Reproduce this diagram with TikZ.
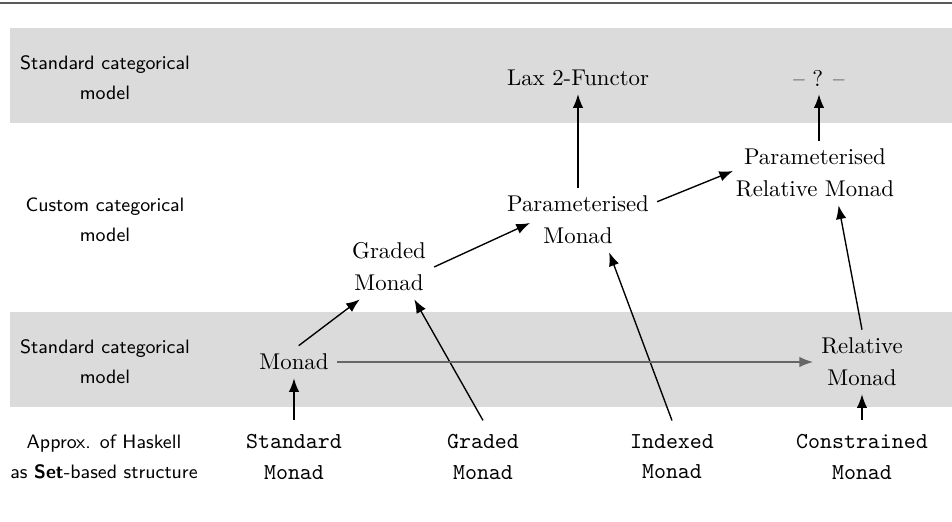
\documentclass[tikz,border=0pt]{standalone}
\usetikzlibrary{arrows.meta}
\begin{document}
\begin{tikzpicture}[x=0.4386pt, y=-0.4386pt, semithick, >={Latex[length=6pt,width=4.6pt]},
	main/.style = {align=center, font=\fontsize{10}{14}\selectfont},
	hask/.style = {align=center, inner ysep=6pt, font=\fontsize{10}{13.2}\selectfont\ttfamily},
	level/.style = {align=center, font=\fontsize{8.5}{13.2}\selectfont\sffamily},
	band/.style = {fill=black!14}]
	\useasboundingbox (0,0) rectangle (952,522);
	%Rule and grey bands
	\draw[black!65, line width=0.8pt] (0,3) -- (952,3);
	\fill[band] (10,28) rectangle (952,123);
	\fill[band] (10,312) rectangle (952,407);
	
	%Row labels on the left
	\node[level] (12) at (105,78) {Standard categorical\\model};
	\node[level] (13) at (105,220) {Custom categorical\\model};
	\node[level] (14) at (105,362) {Standard categorical\\model};
	\node[level] (15) at (104,457) {Approx. of Haskell\\as \textbf{Set}-based structure};
	
	%Top row
	\node[main] (1) at (578,78) {Lax 2-Functor};
	\node[main] (2) at (819,78) {-- ? --};
	%Custom models
	\node[main] (3) at (815,173) {Parameterised\\Relative Monad};
	\node[main] (4) at (578,220) {Parameterised\\Monad};
	\node[main] (5) at (389,267) {Graded\\Monad};
	%Standard models
	\node[main] (6) at (294,362) {Monad};
	\node[main] (7) at (862,362) {Relative\\Monad};
	%Haskell structures
	\node[hask] (8) at (294,457) {Standard\\Monad};
	\node[hask] (9) at (483,457) {Graded\\Monad};
	\node[hask] (10) at (672,457) {Indexed\\Monad};
	\node[hask] (11) at (862,457) {Constrained\\Monad};
	
	%Edges
	\path [->] (8) edge (6); 	%Edge Standard -> Monad
	\path [->] (6.74) edge (5.-132); 	%Edge Monad -> Graded
	\path [->] (9.north) edge (5.-52); 	%Edge Graded -> Graded
	\path [->] (5.east) edge ([shift={(-48,3)}]4.center); 	%Edge Graded -> Parameterised
	\path [->] (10.north) edge (4.-46); 	%Edge Indexed -> Parameterised
	\path [->] (4) edge (1); 	%Edge Parameterised -> Lax
	\path [->] (4.13) edge ([shift={(-82,-2)}]3.center); 	%Edge Parameterised -> Param. Relative
	\path [->] (11) edge (7); 	%Edge Constrained -> Relative
	\path [->] (7.north) edge (3.-54); 	%Edge Relative -> Param. Relative
	\path [->] (3.north -| 2) edge (2); 	%Edge Param. Relative -> ?
	
	%Monad is a relative monad
	\draw[->, black!60] (6.east) -- (6.east -| 7.west);
\end{tikzpicture}
\end{document}
